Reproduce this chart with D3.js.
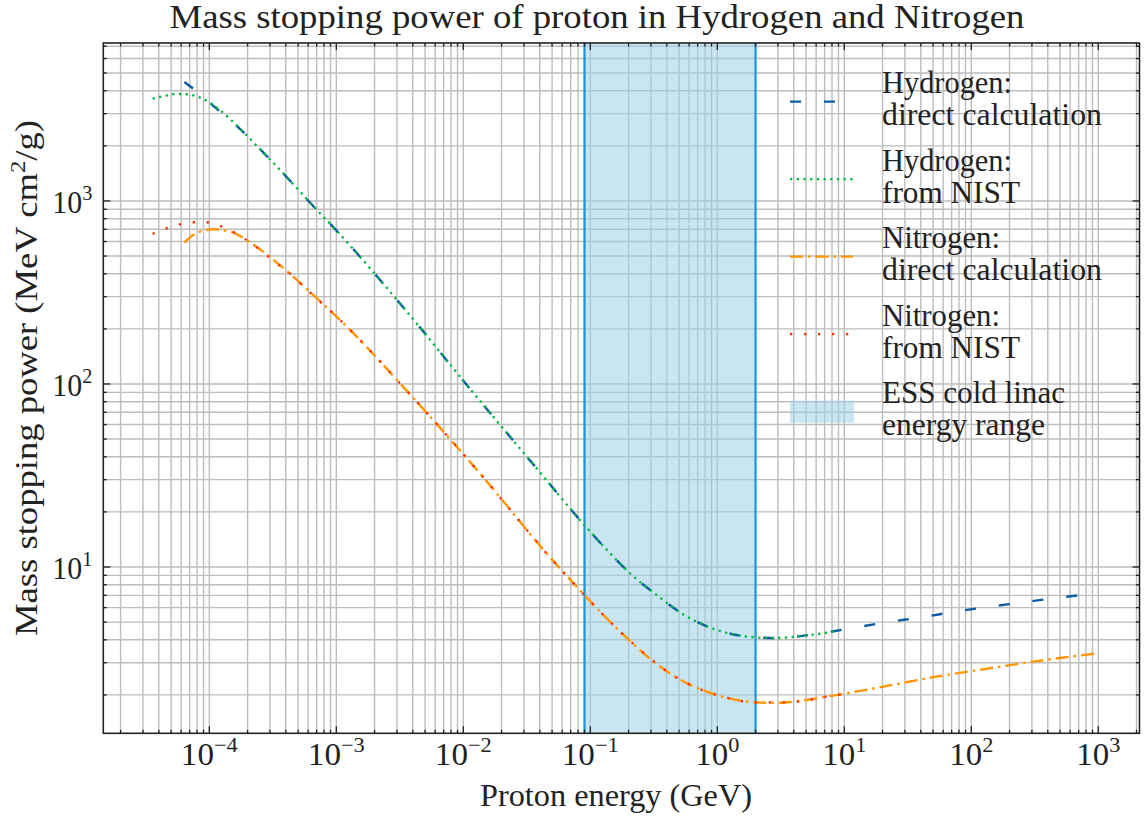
<!DOCTYPE html>
<html>
<head>
<meta charset="utf-8">
<script src="https://cdn.jsdelivr.net/npm/d3@7"></script>
<style>
	body { margin: 0; background: #fff; }
	text { font-family: "Liberation Serif", "DejaVu Serif", serif; fill: #222; }
</style>
</head>
<body>
<div id="chart"></div>
<script>
// energies in GeV, stopping power in MeV cm^2/g
const hDirectE = [6.35e-5, 8e-5, 1.08e-4, 1.74e-4, 2.83e-4, 4.32e-4, 6.6e-4, 1.0e-3, 3.58e-3, 1.13e-2, 4.0e-2, 8.8e-2, 0.135, 0.205, 0.333, 0.54, 0.93, 1.7, 2.8, 6.4, 11.8, 21.6, 40.7, 74.5, 140, 257, 484, 1000];
const hDirectS = [4470, 3950, 3300, 2480, 1760, 1290, 935, 690, 249, 94, 33, 17.2, 12.4, 9.24, 7.03, 5.50, 4.60, 4.17, 4.09, 4.33, 4.65, 4.99, 5.31, 5.70, 6.07, 6.41, 6.80, 7.18];

const hNistE = [3.57e-5, 4.5e-5, 5.54e-5, 6.8e-5, 8.45e-5, 1.21e-4, 1.74e-4, 2.83e-4, 4.32e-4, 6.6e-4, 1.0e-3, 3.58e-3, 1.13e-2, 4.0e-2, 8.8e-2, 0.135, 0.205, 0.333, 0.54, 0.93, 1.7, 2.8, 5.0, 9.0];
const hNistS = [3620, 3760, 3840, 3820, 3670, 3140, 2480, 1760, 1290, 935, 690, 249, 94, 33, 17.2, 12.4, 9.24, 7.03, 5.50, 4.60, 4.17, 4.09, 4.22, 4.48];

const nDirectE = [6.35e-5, 8.2e-5, 1.07e-4, 1.46e-4, 2.09e-4, 2.83e-4, 4.06e-4, 5.85e-4, 1.04e-3, 4.17e-3, 1.35e-2, 4.82e-2, 8.3e-2, 0.1346, 0.1935, 0.295, 0.451, 0.731, 1.186, 2.04, 2.94, 3.74, 7.71, 20.3, 50.2, 124, 308, 1000];
const nDirectS = [592, 675, 700, 680, 595, 510, 415, 330, 228, 81.8, 32.5, 11.3, 7.45, 5.24, 4.10, 3.15, 2.55, 2.15, 1.93, 1.82, 1.81, 1.83, 1.97, 2.22, 2.50, 2.76, 3.04, 3.38];

const nNistE = [3.57e-5, 4.53e-5, 5.77e-5, 7.34e-5, 9.37e-5, 1.2e-4, 1.87e-4, 2.29e-4, 3.39e-4, 4.07e-4, 5.85e-4, 1.04e-3, 4.17e-3, 1.35e-2, 4.82e-2, 8.3e-2, 0.1935, 0.451, 1.186, 2.04, 3.74, 7.71, 10];
const nNistS = [660, 706, 743, 765, 765, 733, 626, 568, 456, 415, 328, 228, 81.8, 32.5, 11.3, 7.45, 4.10, 2.55, 1.93, 1.82, 1.83, 1.97, 2.02];

const essRange = [0.09, 2.0];
const xMajorExp = [-4, -3, -2, -1, 0, 1, 2, 3];
const yMajorExp = [1, 2, 3];
const legendLabels = [["Hydrogen:", "direct calculation"], ["Hydrogen:", "from NIST"], ["Nitrogen:", "direct calculation"], ["Nitrogen:", "from NIST"], ["ESS cold linac", "energy range"]];

// widths of the text runs in the reference (LaTeX font is wider than the serif we have)
const widthOf = {"Hydrogen:": 130, "direct calculation": 220, "from NIST": 138, "Nitrogen:": 118, "ESS cold linac": 183, "energy range": 163};

function fitText(sel, w){
	return sel.attr("textLength", w).attr("lengthAdjust", "spacingAndGlyphs");
}

function drawChart(){
	let W = 1145, H = 816;
	let left = 103.3, top = 43, right = 1139.5, bottom = 733.3;

	let svg = d3.select("#chart").append("svg")
		.attr("width", W)
		.attr("height", H);

	let x = d3.scaleLog().domain([Math.pow(10, -4.835), Math.pow(10, 3.3244)]).range([left, right]);
	let y = d3.scaleLog().domain([Math.pow(10, 0.0913), Math.pow(10, 3.863)]).range([bottom, top]);

	let isMajor = function(v){ return Math.abs(Math.log10(v) - Math.round(Math.log10(v))) < 1e-9; };
	let xt = x.ticks().filter(function(v){ return x(v) > left + 0.5 && x(v) < right - 0.5; });
	let yt = y.ticks().filter(function(v){ return y(v) > top + 0.5 && y(v) < bottom - 0.5; });

	// grid, major and minor look the same
	let grid = svg.append("g").attr("stroke", "#bdbdbd").attr("stroke-width", 1.4);
	grid.selectAll(".gx").data(xt).enter().append("line")
		.attr("x1", function(d){ return x(d); }).attr("x2", function(d){ return x(d); })
		.attr("y1", top).attr("y2", bottom);
	grid.selectAll(".gy").data(yt).enter().append("line")
		.attr("y1", function(d){ return y(d); }).attr("y2", function(d){ return y(d); })
		.attr("x1", left).attr("x2", right);

	// ESS energy band
	svg.append("rect")
		.attr("x", x(essRange[0])).attr("width", x(essRange[1]) - x(essRange[0]))
		.attr("y", top).attr("height", bottom - top)
		.attr("fill", "#9fd0e8").attr("fill-opacity", 0.55);
	svg.selectAll(".essEdge").data(essRange).enter().append("line")
		.attr("x1", function(d){ return x(d); }).attr("x2", function(d){ return x(d); })
		.attr("y1", top).attr("y2", bottom)
		.attr("stroke", "#1f96d4").attr("stroke-width", 2.2);

	let line = d3.line()
		.x(function(d){ return x(d[0]); })
		.y(function(d){ return y(d[1]); })
		.curve(d3.curveMonotoneX);

	let series = [
		{e: hDirectE, s: hDirectS, color: "#0C5DA5", dash: "11,23", w: 2.4},
		{e: hNistE, s: hNistS, color: "#00B945", dash: "2.3,4.4", w: 2.3},
		{e: nDirectE, s: nDirectS, color: "#FF9500", dash: "13,5,2.5,5", w: 2.4},
		{e: nNistE, s: nNistS, color: "#FF2C00", dash: "2.3,11.7", w: 2.3}
	];

	let plot = svg.append("g");
	series.forEach(function(sr){
		plot.append("path")
			.datum(d3.zip(sr.e, sr.s))
			.attr("d", line)
			.attr("fill", "none")
			.attr("stroke", sr.color)
			.attr("stroke-width", sr.w)
			.attr("stroke-dasharray", sr.dash);
	});

	// frame and inward ticks on all four sides
	let ax = svg.append("g").attr("stroke", "#222");
	xt.forEach(function(v){
		let len = isMajor(v) ? 7 : 3.5;
		ax.append("line").attr("x1", x(v)).attr("x2", x(v)).attr("y1", bottom).attr("y2", bottom - len).attr("stroke-width", 1.3);
		ax.append("line").attr("x1", x(v)).attr("x2", x(v)).attr("y1", top).attr("y2", top + len).attr("stroke-width", 1.3);
	});
	yt.forEach(function(v){
		let len = isMajor(v) ? 7 : 3.5;
		ax.append("line").attr("y1", y(v)).attr("y2", y(v)).attr("x1", left).attr("x2", left + len).attr("stroke-width", 1.3);
		ax.append("line").attr("y1", y(v)).attr("y2", y(v)).attr("x1", right).attr("x2", right - len).attr("stroke-width", 1.3);
	});
	svg.append("rect")
		.attr("x", left).attr("y", top).attr("width", right - left).attr("height", bottom - top)
		.attr("fill", "none").attr("stroke", "#222").attr("stroke-width", 1.6);

	// tick labels
	let fs = 31;
	xMajorExp.forEach(function(k){
		let t = svg.append("text")
			.attr("x", x(Math.pow(10, k))).attr("y", bottom + 32)
			.attr("text-anchor", "middle").style("font-size", fs + "px");
		t.append("tspan").text("10");
		t.append("tspan").attr("dy", -13).style("font-size", "21px").text(String(k).replace("-", "\u2212"));
		fitText(t, k < 0 ? 57 : 44);
	});
	yMajorExp.forEach(function(k){
		let t = svg.append("text")
			.attr("x", left - 11).attr("y", y(Math.pow(10, k)) + 12)
			.attr("text-anchor", "end").style("font-size", fs + "px");
		t.append("tspan").text("10");
		t.append("tspan").attr("dy", -13).style("font-size", "21px").text(k);
		fitText(t, 40);
	});

	// axis titles
	fitText(svg.append("text")
		.attr("x", 616).attr("y", 806)
		.attr("text-anchor", "middle").style("font-size", fs + "px")
		.text("Proton energy (GeV)"), 272);
	let yl = svg.append("text")
		.attr("transform", "translate(37,378) rotate(-90)")
		.attr("text-anchor", "middle").style("font-size", fs + "px");
	yl.append("tspan").text("Mass stopping power (MeV cm");
	yl.append("tspan").attr("dy", -12).style("font-size", "21px").text("2");
	yl.append("tspan").attr("dy", 12).text("/g)");
	fitText(yl, 516);

	fitText(svg.append("text")
		.attr("x", 597).attr("y", 28)
		.attr("text-anchor", "middle").style("font-size", "33px")
		.text("Mass stopping power of proton in Hydrogen and Nitrogen"), 855);

	// legend, no frame
	let lg = svg.append("g");
	let y0 = 93.3, step = 77.5, lh = 31.7;
	legendLabels.forEach(function(lab, i){
		let by = y0 + i * step;
		let cy = by + lh / 2 - 7.5;
		if (i < 4) {
			lg.append("line")
				.attr("x1", 790).attr("x2", 853).attr("y1", cy).attr("y2", cy)
				.attr("stroke", series[i].color).attr("stroke-width", series[i].w)
				.attr("stroke-dasharray", series[i].dash);
		} else {
			lg.append("rect")
				.attr("x", 790).attr("width", 64).attr("y", cy - 11).attr("height", 22)
				.attr("fill", "#9fd0e8").attr("fill-opacity", 0.55);
		}
		lab.forEach(function(s, j){
			fitText(lg.append("text")
				.attr("x", 882).attr("y", by + j * lh)
				.style("font-size", fs + "px")
				.text(s), widthOf[s]);
		});
	});
}

drawChart();
</script>
</body>
</html>
